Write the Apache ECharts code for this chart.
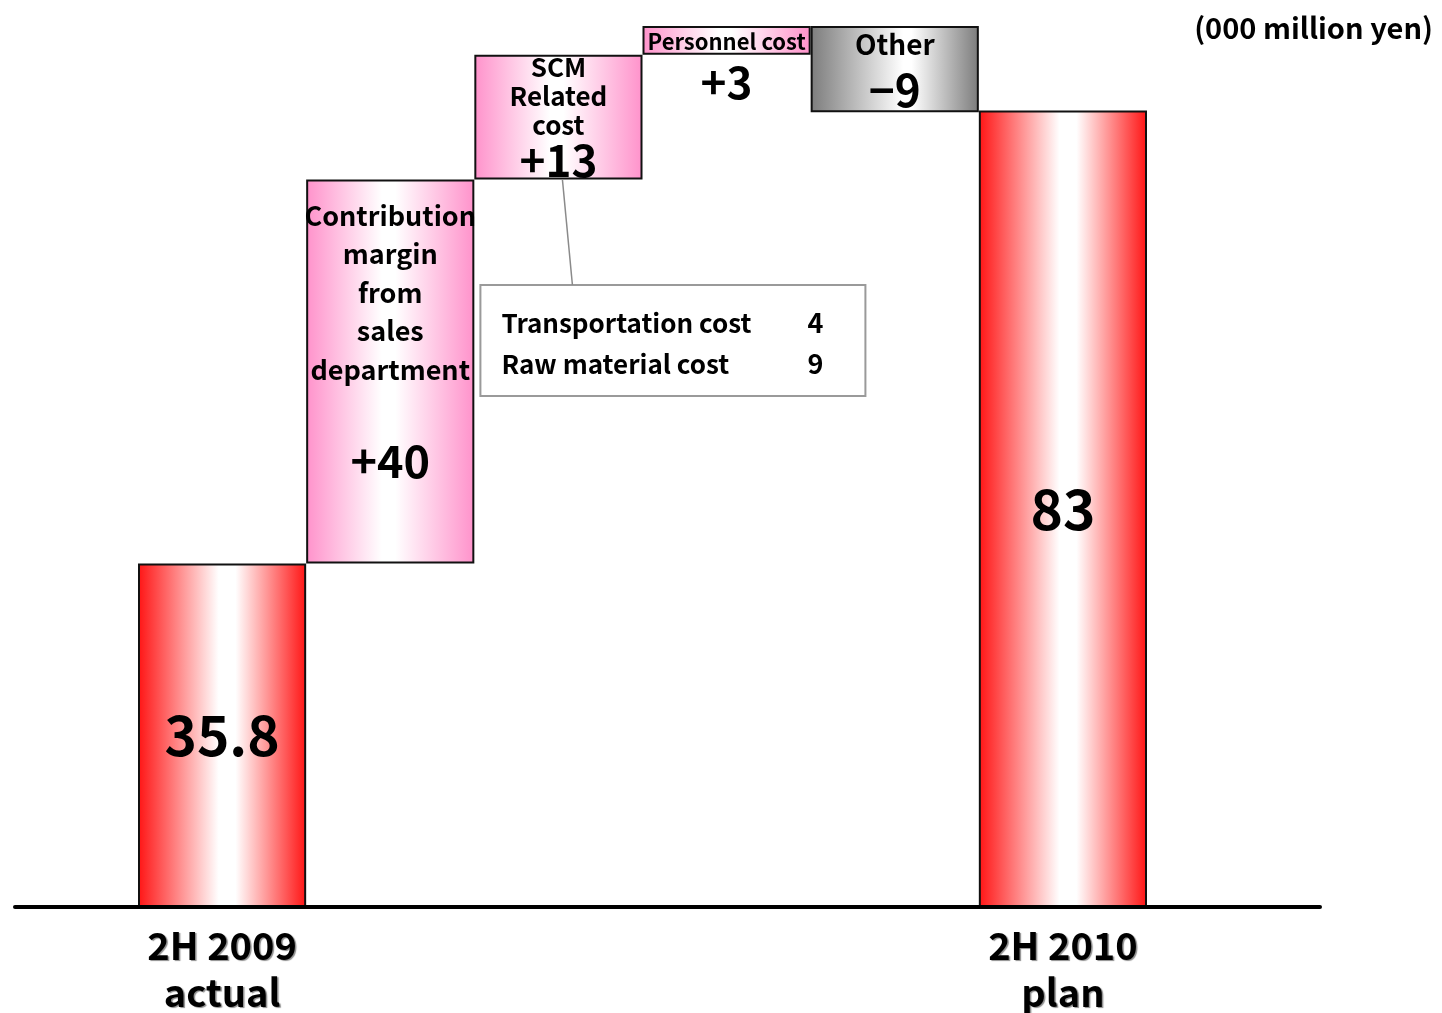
<!DOCTYPE html>
<html>
<head>
<meta charset="utf-8">
<script src="https://cdn.jsdelivr.net/npm/echarts@6/dist/echarts.min.js"></script>
<style>
  html, body { margin: 0; padding: 0; background: #ffffff; }
  #chart { width: 1442px; height: 1013px; }
</style>
</head>
<body>
<div id="chart"></div>
<script>
// Operating profit bridge, 2H 2009 actual -> 2H 2010 plan (000 million yen)
const categories = ['2H 2009 actual', 'Contribution margin', 'SCM Related cost', 'Personnel cost', 'Other', '2H 2010 plan'];
const axisLabels = ['2H 2009\nactual', '', '', '', '', '2H 2010\nplan'];
const startValue = 35.8;
const changes = [40, 13, 3, -9];
const endValue = 83;
const changeTitles = [
  ['Contribution', 'margin', 'from', 'sales', 'department'],
  ['SCM', 'Related', 'cost'],
  ['Personnel cost'],
  ['Other']
];
const breakdownNames = ['Transportation cost', 'Raw material cost'];
const breakdownValues = [4, 9];
const unitText = '(000 million yen)';

const FONT = "'Noto Sans CJK JP', 'DejaVu Sans Condensed', sans-serif";

// Waterfall: an invisible base stacked under each visible step
const bases = [0];
const heights = [startValue];
let running = startValue;
changes.forEach(c => {
  if (c >= 0) { bases.push(running); heights.push(c); running += c; }
  else { running += c; bases.push(running); heights.push(-c); }
});
bases.push(0);
heights.push(endValue);

function hGrad(edge, mid, from, to) {
  return new echarts.graphic.LinearGradient(0, 0, 1, 0, [
    { offset: 0, color: edge },
    { offset: from, color: mid },
    { offset: to, color: mid },
    { offset: 1, color: edge }
  ]);
}
const redFill = () => hGrad('#ff1414', '#ffffff', 0.48, 0.58);
const pinkFill = () => hGrad('#ff92cb', '#ffffff', 0.45, 0.53);
const grayFill = () => hGrad('#7c7c7c', '#ffffff', 0.55, 0.6);

const signed = v => (v >= 0 ? '+' + v : '\u2212' + Math.abs(v));

const totalLabel = v => ({
  show: true, position: 'inside', formatter: String(v),
  fontSize: 55, fontWeight: 'bold', color: '#000', fontFamily: FONT
});

const stepData = heights.map((h, i) => {
  const item = { value: h, itemStyle: { borderColor: '#111', borderWidth: 2 } };
  if (i === 0) { item.itemStyle.color = redFill(); item.label = totalLabel(startValue); }
  else if (i === heights.length - 1) { item.itemStyle.color = redFill(); item.label = totalLabel(endValue); }
  else {
    const c = changes[i - 1];
    const t = changeTitles[i - 1];
    item.itemStyle.color = c >= 0 ? pinkFill() : grayFill();
    const title = t.map(s => '{t|' + s + '}').join('\n');
    const val = '{v|' + signed(c) + '}';
    if (i === 1) {
      item.label = {
        show: true, position: 'insideTop', distance: 17,
        formatter: title + '\n{g|}\n' + val,
        rich: {
          t: { fontSize: 27, lineHeight: 38.5, fontWeight: 'bold', fontFamily: FONT, color: '#000' },
          g: { lineHeight: 44 },
          v: { fontSize: 45, lineHeight: 56, fontWeight: 'bold', fontFamily: FONT, color: '#000' }
        }
      };
    } else if (i === 2) {
      item.label = {
        show: true, position: 'inside',
        formatter: title + '\n' + val,
        rich: {
          t: { fontSize: 26, lineHeight: 29, fontWeight: 'bold', fontFamily: FONT, color: '#000' },
          v: { fontSize: 44, lineHeight: 42, fontWeight: 'bold', fontFamily: FONT, color: '#000' }
        }
      };
    } else if (i === 3) {
      item.label = {
        show: true, position: 'insideTop', distance: 1,
        formatter: title + '\n' + val,
        rich: {
          t: { fontSize: 22, lineHeight: 29, fontWeight: 'bold', fontFamily: FONT, color: '#000' },
          v: { fontSize: 44, lineHeight: 52, fontWeight: 'bold', fontFamily: FONT, color: '#000' }
        }
      };
    } else {
      item.label = {
        show: true, position: 'inside',
        formatter: title + '\n' + val,
        rich: {
          t: { fontSize: 28, lineHeight: 42, fontWeight: 'bold', fontFamily: FONT, color: '#000' },
          v: { fontSize: 44, lineHeight: 50, fontWeight: 'bold', fontFamily: FONT, color: '#000' }
        }
      };
    }
  }
  return item;
});

const chart = echarts.init(document.getElementById('chart'), null, { renderer: 'canvas' });

const option = {
  animation: false,
  backgroundColor: '#ffffff',
  textStyle: { fontFamily: FONT },
  title: {
    text: unitText, right: 4, top: 8,
    textStyle: { fontSize: 29, fontWeight: 'bold', color: '#000', fontFamily: FONT }
  },
  grid: [
    { left: 138, right: 295, top: 0, bottom: 106, outerBoundsMode: 'none' },
    { left: 15, right: 122, top: 0, bottom: 106, outerBoundsMode: 'none' }
  ],
  xAxis: [
    {
      type: 'category', gridIndex: 0, data: categories,
      axisLine: { show: false }, axisTick: { show: false },
      axisLabel: {
        interval: 0, margin: 15,
        formatter: (v, i) => axisLabels[i],
        fontSize: 38, lineHeight: 47, fontWeight: 'bold', color: '#000', fontFamily: FONT,
        textShadowColor: 'rgba(0,0,0,0.45)', textShadowOffsetX: 1.5, textShadowOffsetY: 1.5, textShadowBlur: 1
      }
    },
    {
      type: 'value', gridIndex: 1, min: 0, max: 1, z: 10,
      axisLine: { show: true, lineStyle: { color: '#000', width: 4 } },
      axisTick: { show: false }, axisLabel: { show: false }, splitLine: { show: false }
    }
  ],
  yAxis: [
    { type: 'value', gridIndex: 0, min: 0, max: 94.5, show: false },
    { type: 'value', gridIndex: 1, min: 0, max: 1, show: false }
  ],
  series: [
    {
      type: 'bar', name: 'base', stack: 'bridge', xAxisIndex: 0, yAxisIndex: 0,
      barWidth: '100%', silent: true,
      itemStyle: { color: 'rgba(0,0,0,0)' },
      data: bases
    },
    {
      type: 'bar', name: 'step', stack: 'bridge', xAxisIndex: 0, yAxisIndex: 0,
      barWidth: '100%',
      data: stepData
    }
  ]
};
chart.setOption(option);

// Breakdown callout for the SCM step, hung from the bottom of its bar
const scmIdx = 2;
const anchor = chart.convertToPixel({ gridIndex: 0 }, [categories[scmIdx], bases[scmIdx]]);
const boxX = anchor[0] - 78, boxY = 285, boxW = 385, boxH = 111;
chart.setOption({
  graphic: [
    {
      type: 'line', z: 20,
      shape: { x1: anchor[0] + 4, y1: anchor[1], x2: anchor[0] + 14, y2: boxY },
      style: { stroke: '#8a8a8a', lineWidth: 1.5 }
    },
    {
      type: 'group', x: boxX, y: boxY, z: 20,
      children: [
        { type: 'rect', shape: { x: 0, y: 0, width: boxW, height: boxH },
          style: { fill: '#ffffff', stroke: '#9a9a9a', lineWidth: 2 } }
      ].concat(breakdownNames.map((n, i) => ({
        type: 'text', x: 21, y: 38 + i * 41,
        style: { text: n, fontSize: 26, fontWeight: 'bold', fontFamily: FONT, fill: '#000',
                 textAlign: 'left', textVerticalAlign: 'middle' }
      }))).concat(breakdownValues.map((v, i) => ({
        type: 'text', x: 335, y: 38 + i * 41,
        style: { text: String(v), fontSize: 27, fontWeight: 'bold', fontFamily: FONT, fill: '#000',
                 textAlign: 'center', textVerticalAlign: 'middle' }
      })))
    }
  ]
});
</script>
</body>
</html>
